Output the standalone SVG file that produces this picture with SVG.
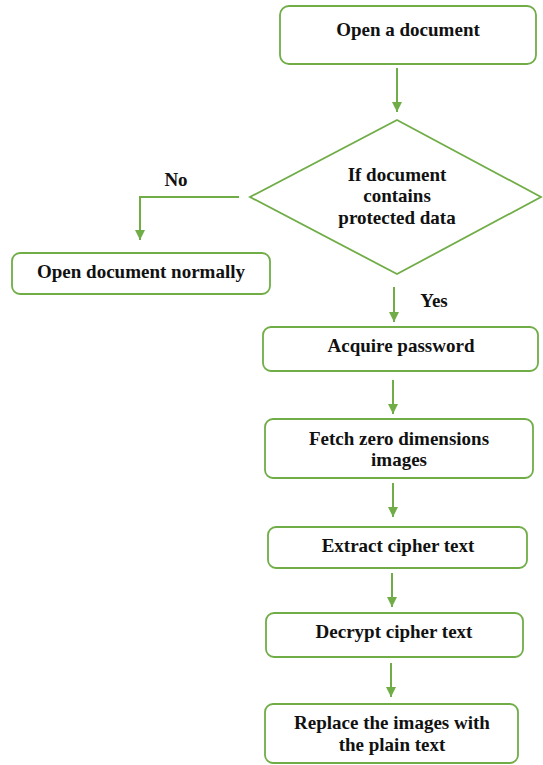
<svg xmlns="http://www.w3.org/2000/svg" width="543" height="765" viewBox="0 0 543 765">
<style>
.box{fill:#fff;stroke:#70AD47;stroke-width:1.8}
.lbl{font-family:"Liberation Serif","Times New Roman",serif;font-weight:bold;font-size:19px;fill:#111;text-anchor:middle}
.edge{fill:none;stroke:#70AD47;stroke-width:2}
</style>
<defs>
<marker id="ah" markerUnits="userSpaceOnUse" markerWidth="12" markerHeight="12" refX="10" refY="5" orient="auto">
<path d="M0,0 L10,5 L0,10 Z" fill="#70AD47"/>
</marker>
</defs>
<rect width="543" height="765" fill="#fff"/>
<g id="connectors">
<line class="edge" x1="397" y1="68" x2="397" y2="112" marker-end="url(#ah)"/>
<polyline class="edge" points="239,197 140,197 140,240" marker-end="url(#ah)"/>
<line class="edge" x1="394" y1="287" x2="394" y2="322" marker-end="url(#ah)"/>
<line class="edge" x1="393" y1="380" x2="393" y2="414" marker-end="url(#ah)"/>
<line class="edge" x1="393" y1="483" x2="393" y2="517" marker-end="url(#ah)"/>
<line class="edge" x1="392" y1="573" x2="392" y2="607" marker-end="url(#ah)"/>
<line class="edge" x1="391" y1="663" x2="391" y2="697" marker-end="url(#ah)"/>
<text class="lbl" x="176" y="186">No</text>
<text class="lbl" x="434" y="307">Yes</text>
</g>
<g id="open">
<rect class="box" x="280" y="6" width="256" height="58" rx="9"/>
<text class="lbl" x="408" y="36">Open a document</text>
</g>
<g id="decision">
<polygon class="box" points="397,120 541,197 397,274 250,197"/>
<text class="lbl" x="397" y="181">If document</text>
<text class="lbl" x="397" y="202">contains</text>
<text class="lbl" x="397" y="224">protected data</text>
</g>
<g id="normal">
<rect class="box" x="12" y="253" width="258" height="41" rx="8"/>
<text class="lbl" x="141" y="278">Open document normally</text>
</g>
<g id="acquire">
<rect class="box" x="263" y="327" width="275" height="44" rx="8"/>
<text class="lbl" x="401" y="352">Acquire password</text>
</g>
<g id="fetch">
<rect class="box" x="265" y="419" width="268" height="59" rx="8"/>
<text class="lbl" x="399" y="445">Fetch zero dimensions</text>
<text class="lbl" x="399" y="466">images</text>
</g>
<g id="extract">
<rect class="box" x="268" y="527" width="259" height="41" rx="8"/>
<text class="lbl" x="398" y="552">Extract cipher text</text>
</g>
<g id="decrypt">
<rect class="box" x="266" y="613" width="257" height="44" rx="8"/>
<text class="lbl" x="394" y="638">Decrypt cipher text</text>
</g>
<g id="replace">
<rect class="box" x="265" y="704" width="253" height="59" rx="8"/>
<text class="lbl" x="392" y="729">Replace the images with</text>
<text class="lbl" x="392" y="751">the plain text</text>
</g>
</svg>
